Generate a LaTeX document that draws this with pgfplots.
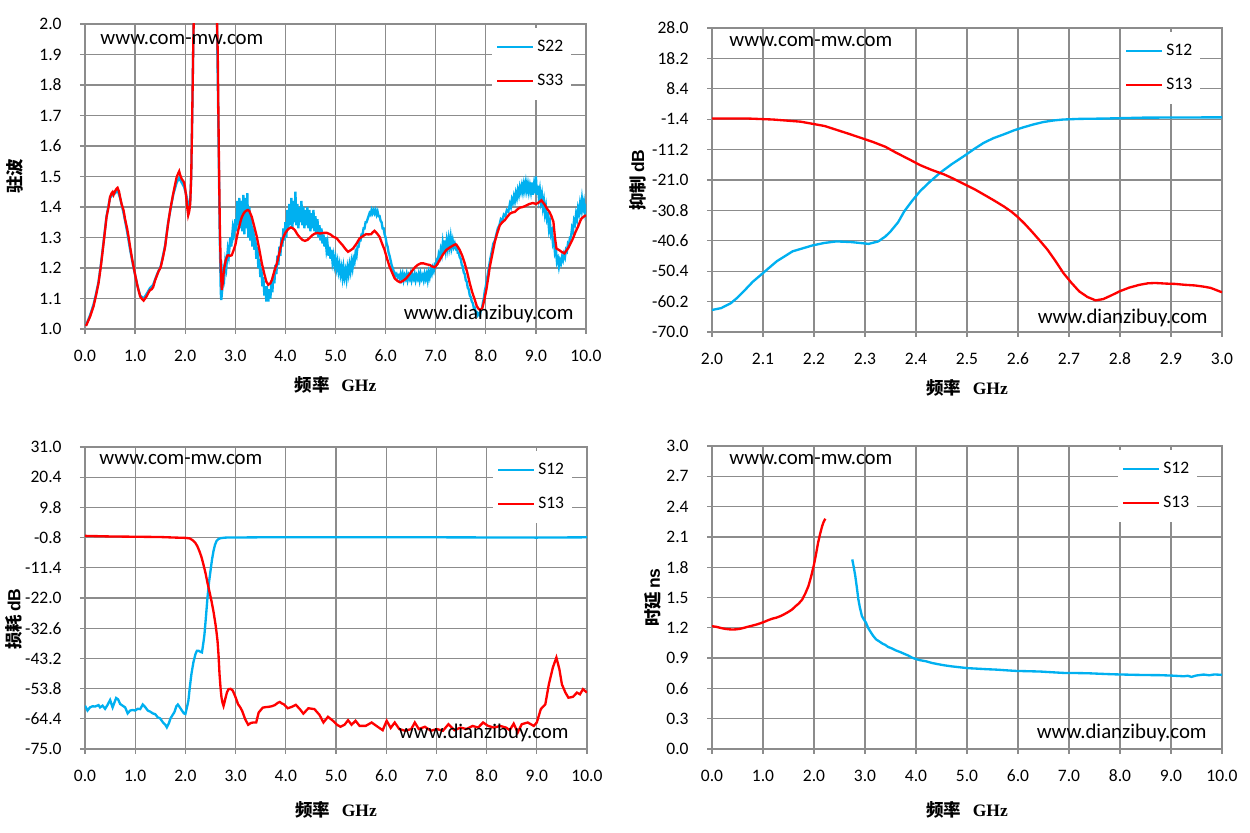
\documentclass[border=0pt]{standalone}
\usepackage{pgfplots}
\pgfplotsset{compat=1.18}
\usepackage{fontspec}
\setmainfont{Carlito}
\newfontfamily\cjk{Noto Sans CJK SC}
\newfontfamily\serifb{Liberation Serif}
\newfontfamily\sansb{Liberation Sans}
\definecolor{sblue}{HTML}{00B0F0}
\definecolor{sred}{HTML}{FF0000}
\definecolor{gridc}{HTML}{8C8C8C}
\newcommand{\tickfont}{\fontsize{10.5}{12}\selectfont}
\newcommand{\wmfont}{\fontsize{12.5}{14}\selectfont}
\newcommand{\labfont}{\fontsize{10.5}{12}\selectfont}
\newcommand{\xlab}{{\cjk\bfseries 频率}\hspace{7pt}{\serifb\bfseries GHz}}
\pgfplotsset{
  myax/.style={
    scale only axis,
    anchor=south west,
    axis line style={gridc, line width=0.75pt},
    grid=major,
    major grid style={gridc, line width=0.75pt},
    tick style={gridc, line width=0.75pt},
    tick align=outside,
    tick pos=left,
    major tick length=3pt,
    tick label style={font=\tickfont},
    /pgf/number format/assume math mode=true,
    /pgf/number format/fixed,
    /pgf/number format/fixed zerofill,
    /pgf/number format/precision=1,
    xticklabel style={yshift=-6pt},
    yticklabel style={xshift=-7.5pt},
    label style={font=\labfont},
    legend cell align=left,
    legend style={draw=none, fill=white, anchor=north east, font=\tickfont,
      row sep=8pt, inner ysep=5.2pt, inner xsep=2.5pt, yshift=-2.4pt},
    legend image code/.code={\draw[##1, line width=1.1pt] (0pt,0pt) -- (21.6pt,0pt);},
    every axis plot/.append style={line width=1.4pt},
  },
}
\begin{document}
\begin{tikzpicture}
\useasboundingbox (0,0) rectangle (750pt,499.8pt);
%%%%%%%%%%%%%%%% TOP LEFT
\begin{axis}[myax, at={(51pt,302.4pt)}, width=300.6pt, height=183pt,
  xmin=0, xmax=10, ymin=1, ymax=2,
  xtick={0,1,...,10}, ytick={1.0,1.1,1.2,1.3,1.4,1.5,1.6,1.7,1.8,1.9,2.0},
  legend style={at={(0.97,1)}},
  xlabel={\xlab}, xlabel style={at={(axis description cs:0.5,-0.184)}, anchor=center},
  ylabel={{\cjk\bfseries 驻波}}, ylabel style={at={(axis description cs:-0.14,0.5)}, anchor=center},
]
\addplot[sblue] coordinates {
(0.02,1.012)(0.10,1.045)(0.17,1.08)(0.22,1.115)(0.27,1.155)(0.32,1.215)(0.37,1.285)(0.43,1.37)(0.47,1.405)(0.50,1.43)(0.55,1.44)(0.60,1.445)(0.65,1.455)(0.70,1.43)(0.77,1.38)(0.84,1.32)(0.90,1.26)(0.97,1.20)(1.05,1.14)(1.10,1.11)(1.17,1.10)(1.23,1.115)(1.30,1.135)(1.36,1.145)(1.44,1.18)(1.51,1.205)(1.55,1.235)(1.60,1.275)(1.66,1.35)(1.76,1.44)(1.83,1.48)(1.88,1.495)(1.93,1.48)(1.98,1.465)(2.02,1.44)(2.06,1.41)(2.08,1.40)(2.10,1.42)(2.12,1.50)(2.14,1.70)(2.16,1.92)(2.18,2.10)(2.20,3.0)(2.60,3.0)(2.63,2.05)(2.66,1.70)(2.69,1.30)(2.71,1.12)(2.72,1.095)(2.74,1.13)(2.76,1.19)(2.78,1.17)(2.80,1.22)(2.82,1.20)(2.85,1.26)(2.87,1.24)(2.90,1.30)(2.92,1.27)(2.95,1.33)(2.97,1.31)(3.00,1.36)(3.02,1.32)(3.04,1.42)(3.06,1.34)(3.08,1.43)(3.10,1.33)(3.12,1.42)(3.14,1.32)(3.16,1.44)(3.18,1.31)(3.20,1.43)(3.22,1.33)(3.24,1.445)(3.26,1.30)(3.28,1.40)(3.30,1.29)(3.32,1.36)(3.34,1.27)(3.36,1.33)(3.38,1.26)(3.40,1.30)(3.42,1.23)(3.44,1.27)(3.46,1.20)(3.48,1.23)(3.50,1.17)(3.52,1.20)(3.54,1.14)(3.56,1.17)(3.58,1.11)(3.60,1.14)(3.62,1.09)(3.64,1.12)(3.66,1.09)(3.68,1.13)(3.70,1.10)(3.72,1.15)(3.74,1.12)(3.76,1.18)(3.78,1.15)(3.80,1.21)(3.82,1.18)(3.84,1.24)(3.86,1.21)(3.88,1.27)(3.90,1.24)(3.92,1.30)(3.94,1.27)(3.96,1.33)(3.98,1.29)(4.00,1.35)(4.02,1.30)(4.04,1.39)(4.06,1.33)(4.08,1.41)(4.10,1.34)(4.12,1.43)(4.14,1.33)(4.16,1.42)(4.18,1.35)(4.20,1.45)(4.22,1.34)(4.24,1.41)(4.26,1.33)(4.28,1.40)(4.30,1.35)(4.32,1.42)(4.34,1.34)(4.36,1.40)(4.38,1.33)(4.40,1.39)(4.42,1.34)(4.44,1.40)(4.46,1.33)(4.48,1.39)(4.50,1.32)(4.52,1.38)(4.54,1.33)(4.56,1.39)(4.58,1.32)(4.60,1.37)(4.62,1.31)(4.64,1.36)(4.66,1.30)(4.68,1.34)(4.70,1.29)(4.72,1.33)(4.74,1.28)(4.76,1.31)(4.78,1.27)(4.80,1.30)(4.82,1.26)(4.84,1.28)(4.86,1.24)(4.88,1.27)(4.90,1.23)(4.92,1.26)(4.94,1.22)(4.96,1.24)(4.98,1.21)(5.00,1.23)(5.02,1.20)(5.04,1.22)(5.06,1.19)(5.08,1.21)(5.10,1.18)(5.12,1.20)(5.14,1.17)(5.16,1.20)(5.18,1.17)(5.20,1.19)(5.22,1.165)(5.24,1.20)(5.26,1.18)(5.28,1.21)(5.30,1.19)(5.32,1.22)(5.34,1.20)(5.36,1.23)(5.38,1.22)(5.40,1.25)(5.42,1.24)(5.44,1.27)(5.46,1.27)(5.48,1.29)(5.50,1.29)(5.52,1.31)(5.54,1.31)(5.56,1.33)(5.58,1.33)(5.60,1.35)(5.62,1.35)(5.64,1.36)(5.66,1.37)(5.68,1.38)(5.70,1.375)(5.72,1.39)(5.74,1.38)(5.76,1.39)(5.78,1.38)(5.80,1.39)(5.82,1.375)(5.84,1.385)(5.86,1.37)(5.88,1.37)(5.90,1.355)(5.92,1.35)(5.94,1.33)(5.96,1.33)(5.98,1.31)(6.00,1.30)(6.02,1.28)(6.04,1.27)(6.06,1.25)(6.08,1.24)(6.10,1.225)(6.12,1.21)(6.14,1.20)(6.16,1.19)(6.18,1.185)(6.20,1.175)(6.22,1.18)(6.24,1.17)(6.26,1.175)(6.28,1.165)(6.30,1.18)(6.32,1.165)(6.34,1.18)(6.36,1.16)(6.38,1.175)(6.40,1.165)(6.42,1.18)(6.44,1.16)(6.46,1.175)(6.48,1.165)(6.50,1.18)(6.52,1.16)(6.54,1.175)(6.56,1.165)(6.58,1.18)(6.60,1.16)(6.62,1.175)(6.64,1.165)(6.66,1.18)(6.68,1.16)(6.70,1.18)(6.72,1.165)(6.74,1.175)(6.76,1.16)(6.78,1.18)(6.80,1.165)(6.82,1.18)(6.84,1.16)(6.86,1.185)(6.88,1.17)(6.90,1.19)(6.92,1.18)(6.94,1.20)(6.96,1.19)(6.98,1.21)(7.00,1.205)(7.02,1.225)(7.04,1.22)(7.06,1.245)(7.08,1.235)(7.10,1.26)(7.12,1.245)(7.14,1.28)(7.16,1.25)(7.18,1.29)(7.20,1.26)(7.22,1.29)(7.24,1.265)(7.26,1.295)(7.28,1.27)(7.30,1.30)(7.32,1.27)(7.34,1.29)(7.36,1.27)(7.38,1.28)(7.40,1.265)(7.42,1.27)(7.44,1.25)(7.46,1.25)(7.48,1.235)(7.50,1.23)(7.52,1.21)(7.54,1.205)(7.56,1.185)(7.58,1.18)(7.60,1.16)(7.62,1.155)(7.64,1.135)(7.66,1.13)(7.68,1.11)(7.70,1.105)(7.72,1.09)(7.74,1.085)(7.76,1.07)(7.78,1.07)(7.80,1.055)(7.82,1.055)(7.84,1.045)(7.86,1.05)(7.88,1.045)(7.90,1.06)(7.92,1.065)(7.94,1.085)(7.96,1.10)(7.98,1.125)(8.00,1.14)(8.03,1.17)(8.06,1.20)(8.09,1.23)(8.12,1.255)(8.15,1.28)(8.18,1.29)(8.21,1.31)(8.24,1.33)(8.27,1.34)(8.30,1.36)(8.33,1.355)(8.36,1.375)(8.39,1.37)(8.42,1.39)(8.45,1.385)(8.48,1.41)(8.50,1.40)(8.52,1.425)(8.54,1.415)(8.56,1.435)(8.58,1.42)(8.60,1.445)(8.62,1.43)(8.64,1.455)(8.66,1.44)(8.68,1.465)(8.70,1.45)(8.72,1.47)(8.74,1.45)(8.76,1.475)(8.78,1.455)(8.80,1.48)(8.82,1.455)(8.84,1.475)(8.86,1.45)(8.88,1.47)(8.90,1.45)(8.92,1.48)(8.94,1.44)(8.96,1.47)(8.98,1.445)(9.00,1.50)(9.02,1.44)(9.04,1.47)(9.06,1.43)(9.08,1.455)(9.10,1.42)(9.12,1.44)(9.14,1.40)(9.16,1.42)(9.18,1.38)(9.20,1.40)(9.22,1.36)(9.24,1.37)(9.26,1.33)(9.28,1.35)(9.30,1.31)(9.32,1.32)(9.34,1.28)(9.36,1.29)(9.38,1.25)(9.40,1.26)(9.42,1.22)(9.44,1.23)(9.46,1.205)(9.48,1.225)(9.50,1.215)(9.52,1.235)(9.54,1.225)(9.56,1.245)(9.58,1.235)(9.60,1.26)(9.62,1.255)(9.64,1.28)(9.66,1.275)(9.68,1.30)(9.70,1.30)(9.72,1.33)(9.74,1.32)(9.76,1.355)(9.78,1.345)(9.80,1.375)(9.82,1.36)(9.84,1.395)(9.86,1.38)(9.88,1.41)(9.90,1.39)(9.92,1.425)(9.94,1.395)(9.96,1.415)(9.98,1.385)(10.0,1.41)};
\addlegendentry{S22}
\addplot[sred] coordinates {
(0.02,1.01)(0.10,1.04)(0.17,1.074)(0.22,1.11)(0.27,1.15)(0.32,1.21)(0.37,1.28)(0.43,1.367)(0.47,1.40)(0.50,1.433)(0.53,1.445)(0.55,1.449)(0.57,1.44)(0.60,1.452)(0.63,1.46)(0.65,1.463)(0.68,1.45)(0.70,1.433)(0.73,1.41)(0.77,1.389)(0.80,1.36)(0.84,1.33)(0.87,1.302)(0.90,1.27)(0.94,1.23)(0.97,1.204)(1.01,1.17)(1.05,1.139)(1.08,1.12)(1.10,1.107)(1.13,1.10)(1.17,1.093)(1.20,1.10)(1.23,1.107)(1.27,1.12)(1.30,1.128)(1.33,1.13)(1.36,1.137)(1.40,1.16)(1.44,1.177)(1.47,1.19)(1.51,1.202)(1.55,1.23)(1.60,1.27)(1.63,1.31)(1.66,1.346)(1.70,1.39)(1.76,1.443)(1.80,1.475)(1.83,1.498)(1.86,1.51)(1.88,1.517)(1.90,1.505)(1.93,1.492)(1.96,1.485)(1.98,1.48)(2.00,1.46)(2.02,1.433)(2.04,1.40)(2.06,1.373)(2.08,1.385)(2.10,1.41)(2.12,1.50)(2.14,1.70)(2.16,1.92)(2.18,2.10)(2.20,3.0)(2.60,3.0)(2.63,2.05)(2.65,1.90)(2.67,1.60)(2.69,1.35)(2.71,1.20)(2.73,1.128)(2.75,1.15)(2.76,1.172)(2.78,1.20)(2.81,1.226)(2.84,1.24)(2.86,1.242)(2.90,1.24)(2.93,1.242)(2.97,1.26)(3.00,1.275)(3.03,1.30)(3.06,1.324)(3.10,1.35)(3.13,1.367)(3.17,1.38)(3.21,1.387)(3.25,1.39)(3.28,1.387)(3.31,1.375)(3.33,1.367)(3.38,1.335)(3.43,1.302)(3.48,1.26)(3.53,1.215)(3.58,1.18)(3.62,1.155)(3.66,1.145)(3.70,1.15)(3.73,1.161)(3.78,1.19)(3.83,1.215)(3.88,1.25)(3.93,1.286)(3.97,1.305)(4.01,1.318)(4.06,1.328)(4.11,1.333)(4.15,1.33)(4.19,1.324)(4.24,1.31)(4.29,1.30)(4.34,1.292)(4.39,1.289)(4.44,1.292)(4.49,1.30)(4.54,1.308)(4.59,1.313)(4.64,1.315)(4.69,1.313)(4.76,1.315)(4.83,1.315)(4.90,1.31)(4.96,1.302)(5.02,1.298)(5.08,1.286)(5.14,1.275)(5.20,1.262)(5.25,1.253)(5.30,1.258)(5.35,1.264)(5.42,1.28)(5.48,1.297)(5.55,1.305)(5.61,1.311)(5.66,1.31)(5.71,1.311)(5.75,1.318)(5.78,1.322)(5.83,1.313)(5.88,1.302)(5.93,1.28)(5.98,1.259)(6.03,1.23)(6.08,1.204)(6.13,1.185)(6.18,1.166)(6.24,1.157)(6.29,1.153)(6.35,1.158)(6.41,1.166)(6.47,1.178)(6.54,1.193)(6.59,1.203)(6.64,1.21)(6.70,1.215)(6.76,1.215)(6.82,1.212)(6.88,1.21)(6.93,1.205)(6.98,1.202)(7.03,1.212)(7.08,1.226)(7.14,1.243)(7.21,1.259)(7.26,1.265)(7.31,1.27)(7.36,1.275)(7.40,1.278)(7.44,1.27)(7.48,1.259)(7.53,1.24)(7.58,1.215)(7.63,1.185)(7.68,1.15)(7.73,1.12)(7.78,1.096)(7.82,1.075)(7.86,1.065)(7.90,1.063)(7.93,1.068)(7.97,1.095)(8.01,1.128)(8.05,1.17)(8.08,1.204)(8.13,1.245)(8.18,1.286)(8.23,1.315)(8.28,1.34)(8.33,1.35)(8.38,1.357)(8.43,1.368)(8.48,1.378)(8.53,1.382)(8.58,1.384)(8.63,1.392)(8.68,1.398)(8.74,1.40)(8.81,1.405)(8.87,1.41)(8.94,1.413)(9.00,1.41)(9.04,1.413)(9.08,1.418)(9.11,1.422)(9.14,1.415)(9.17,1.409)(9.22,1.395)(9.27,1.384)(9.31,1.37)(9.35,1.351)(9.38,1.30)(9.41,1.264)(9.45,1.26)(9.48,1.257)(9.52,1.252)(9.57,1.248)(9.60,1.255)(9.64,1.264)(9.69,1.28)(9.74,1.297)(9.79,1.318)(9.84,1.335)(9.88,1.352)(9.91,1.362)(9.95,1.368)(10.0,1.373)};
\addlegendentry{S33}
\node[anchor=west, inner sep=0pt, font=\wmfont, xshift=9pt, yshift=-9.6pt] at (rel axis cs:0,1) {www.com-mw.com};
\node[anchor=east, inner sep=0pt, font=\wmfont, xshift=-7.2pt, yshift=9pt] at (rel axis cs:1,0) {www.dianzibuy.com};
\end{axis}
%%%%%%%%%%%%%%%% TOP RIGHT
\begin{axis}[myax, at={(427.2pt,300.6pt)}, width=306pt, height=182.4pt,
  xmin=2, xmax=3, ymin=-70, ymax=28,
  xtick={2.0,2.1,2.2,2.3,2.4,2.5,2.6,2.7,2.8,2.9,3.0},
  ytick={-70,-60.2,-50.4,-40.6,-30.8,-21,-11.2,-1.4,8.4,18.2,28},
  legend style={at={(0.957,1)}},
  xlabel={\xlab}, xlabel style={at={(axis description cs:0.5,-0.184)}, anchor=center},
  ylabel={{\cjk\bfseries 抑制}\,{\sansb\bfseries dB}}, ylabel style={at={(axis description cs:-0.146,0.5)}, anchor=center},
]
\addplot[sblue] coordinates {
(2.000,-62.9)(2.018,-62.3)(2.037,-60.7)(2.050,-58.9)(2.065,-56.4)(2.080,-53.8)(2.100,-51.0)(2.127,-47.2)(2.158,-44.0)(2.197,-42.1)(2.220,-41.3)(2.244,-40.8)(2.272,-41.0)(2.290,-41.3)(2.307,-41.6)(2.326,-40.8)(2.340,-39.2)(2.350,-37.6)(2.365,-34.6)(2.377,-31.1)(2.392,-27.8)(2.408,-24.6)(2.427,-21.6)(2.447,-18.7)(2.470,-15.9)(2.494,-13.3)(2.515,-10.9)(2.533,-9.0)(2.552,-7.5)(2.572,-6.3)(2.592,-5.0)(2.611,-4.0)(2.630,-3.1)(2.650,-2.3)(2.670,-1.8)(2.689,-1.5)(2.720,-1.3)(2.767,-1.2)(2.845,-0.9)(2.920,-0.85)(3.000,-0.8)};
\addlegendentry{S12}
\addplot[sred] coordinates {
(2.000,-1.15)(2.065,-1.15)(2.119,-1.5)(2.174,-2.2)(2.221,-3.6)(2.268,-6.1)(2.315,-8.7)(2.340,-10.3)(2.361,-12.2)(2.385,-14.2)(2.408,-16.2)(2.430,-17.7)(2.455,-19.2)(2.475,-20.7)(2.494,-22.3)(2.515,-24.0)(2.533,-25.7)(2.552,-27.5)(2.572,-29.5)(2.587,-31.2)(2.600,-33.0)(2.613,-35.1)(2.627,-37.6)(2.642,-40.4)(2.658,-43.5)(2.673,-47.0)(2.689,-51.0)(2.705,-54.2)(2.720,-56.9)(2.736,-58.7)(2.752,-59.8)(2.767,-59.4)(2.783,-58.2)(2.799,-56.9)(2.818,-55.7)(2.838,-54.8)(2.855,-54.3)(2.869,-54.2)(2.890,-54.4)(2.908,-54.5)(2.928,-54.8)(2.947,-55.0)(2.965,-55.4)(2.978,-55.8)(3.000,-57.2)};
\addlegendentry{S13}
\node[anchor=west, inner sep=0pt, font=\wmfont, xshift=10.2pt, yshift=-8.4pt] at (rel axis cs:0,1) {www.com-mw.com};
\node[anchor=east, inner sep=0pt, font=\wmfont, xshift=-8.4pt, yshift=8.4pt] at (rel axis cs:1,0) {www.dianzibuy.com};
\end{axis}
%%%%%%%%%%%%%%%% BOTTOM LEFT
\begin{axis}[myax, at={(51pt,50.4pt)}, width=301.2pt, height=181.2pt,
  xmin=0, xmax=10, ymin=-75, ymax=31,
  xtick={0,1,...,10},
  ytick={-75,-64.4,-53.8,-43.2,-32.6,-22,-11.4,-0.8,9.8,20.4,31},
  legend style={at={(0.97,1)}},
  xlabel={\xlab}, xlabel style={at={(axis description cs:0.5,-0.20)}, anchor=center},
  ylabel={{\cjk\bfseries 损耗}\,{\sansb\bfseries dB}}, ylabel style={at={(axis description cs:-0.142,0.43)}, anchor=center},
]
\addplot[sblue] coordinates {
(0.00,-59.8)(0.05,-61.5)(0.10,-60.4)(0.15,-60.0)(0.20,-60.1)(0.27,-59.6)(0.30,-60.4)(0.35,-59.8)(0.40,-60.9)(0.45,-59.5)(0.50,-57.8)(0.55,-60.4)(0.58,-59.0)(0.62,-57.1)(0.66,-57.6)(0.70,-59.2)(0.75,-59.8)(0.80,-60.4)(0.85,-62.5)(0.90,-61.5)(0.95,-61.3)(1.00,-61.5)(1.05,-60.9)(1.10,-61.0)(1.15,-59.4)(1.20,-60.3)(1.25,-61.5)(1.30,-61.9)(1.35,-62.5)(1.40,-62.8)(1.45,-63.9)(1.50,-64.3)(1.55,-65.6)(1.60,-66.5)(1.63,-67.4)(1.67,-66.0)(1.70,-64.4)(1.74,-63.2)(1.78,-62.1)(1.82,-60.0)(1.85,-59.4)(1.89,-60.4)(1.93,-61.5)(1.97,-62.5)(2.00,-62.7)(2.03,-60.5)(2.06,-58.0)(2.09,-53.0)(2.12,-48.7)(2.16,-44.5)(2.20,-41.7)(2.23,-40.5)(2.26,-40.5)(2.30,-40.9)(2.33,-41.1)(2.36,-37.5)(2.38,-34.7)(2.41,-28.5)(2.44,-21.8)(2.47,-16.5)(2.50,-12.5)(2.53,-8.5)(2.56,-5.5)(2.59,-3.3)(2.62,-2.0)(2.66,-1.3)(2.70,-1.0)(2.80,-0.8)(3.50,-0.7)(5.00,-0.7)(7.00,-0.7)(9.00,-0.8)(10.0,-0.7)};
\addlegendentry{S12}
\addplot[sred] coordinates {
(0.00,-0.2)(0.50,-0.4)(1.00,-0.5)(1.50,-0.6)(1.80,-0.8)(2.00,-0.9)(2.09,-1.1)(2.15,-1.8)(2.20,-2.7)(2.24,-3.9)(2.28,-5.6)(2.32,-7.6)(2.36,-10.3)(2.40,-13.2)(2.44,-16.7)(2.48,-19.8)(2.52,-23.1)(2.56,-26.8)(2.60,-31.3)(2.62,-34.0)(2.64,-37.1)(2.66,-42.0)(2.68,-48.8)(2.70,-53.5)(2.72,-57.0)(2.74,-58.8)(2.76,-59.9)(2.78,-58.5)(2.80,-57.0)(2.83,-55.0)(2.86,-54.0)(2.90,-53.9)(2.94,-54.4)(2.99,-56.4)(3.05,-59.3)(3.09,-60.3)(3.13,-61.6)(3.19,-64.5)(3.25,-66.5)(3.30,-65.9)(3.35,-65.7)(3.41,-65.7)(3.46,-62.2)(3.54,-60.5)(3.60,-60.3)(3.66,-60.2)(3.72,-60.0)(3.78,-59.6)(3.84,-58.8)(3.88,-58.5)(3.92,-59.0)(3.96,-59.3)(4.04,-60.7)(4.12,-60.2)(4.20,-59.5)(4.28,-61.0)(4.35,-62.6)(4.45,-60.7)(4.57,-61.0)(4.67,-63.0)(4.75,-65.7)(4.84,-63.7)(4.94,-65.1)(5.02,-66.5)(5.09,-67.2)(5.17,-66.5)(5.24,-64.9)(5.31,-66.5)(5.39,-65.1)(5.47,-66.9)(5.59,-66.9)(5.71,-65.7)(5.83,-67.2)(5.93,-68.4)(6.01,-65.1)(6.09,-67.6)(6.17,-65.7)(6.26,-68.0)(6.38,-68.6)(6.50,-68.0)(6.57,-65.7)(6.65,-68.0)(6.77,-67.2)(6.89,-68.6)(7.01,-68.0)(7.13,-68.6)(7.24,-66.3)(7.36,-68.4)(7.48,-67.5)(7.60,-68.0)(7.72,-66.9)(7.83,-67.5)(7.93,-65.7)(8.03,-66.9)(8.15,-67.5)(8.27,-66.9)(8.39,-67.5)(8.46,-68.4)(8.54,-66.1)(8.62,-69.2)(8.70,-66.3)(8.82,-65.7)(8.94,-66.9)(9.00,-65.7)(9.08,-61.0)(9.17,-59.3)(9.24,-52.3)(9.32,-46.4)(9.39,-42.9)(9.45,-47.0)(9.50,-52.3)(9.57,-55.2)(9.63,-57.0)(9.72,-56.7)(9.80,-55.2)(9.86,-55.8)(9.92,-54.0)(10.0,-55.2)};
\addlegendentry{S13}
\node[anchor=west, inner sep=0pt, font=\wmfont, xshift=8.4pt, yshift=-7.8pt] at (rel axis cs:0,1) {www.com-mw.com};
\node[anchor=east, inner sep=0pt, font=\wmfont, xshift=-10.8pt, yshift=9.6pt] at (rel axis cs:1,0) {www.dianzibuy.com};
\end{axis}
%%%%%%%%%%%%%%%% BOTTOM RIGHT
\begin{axis}[myax, at={(427.2pt,50.4pt)}, width=306pt, height=181.8pt,
  xmin=0, xmax=10, ymin=0, ymax=3,
  xtick={0,1,...,10},
  ytick={0,0.3,0.6,0.9,1.2,1.5,1.8,2.1,2.4,2.7,3.0},
  legend style={at={(0.951,1)}},
  xlabel={\xlab}, xlabel style={at={(axis description cs:0.5,-0.20)}, anchor=center},
  ylabel={{\cjk\bfseries 时延}\,{\sansb\bfseries ns}}, ylabel style={at={(axis description cs:-0.115,0.5)}, anchor=center},
]
\addplot[sblue] coordinates {
(2.75,1.877)(2.78,1.80)(2.81,1.711)(2.84,1.60)(2.87,1.48)(2.90,1.40)(2.94,1.315)(2.98,1.28)(3.02,1.25)(3.06,1.20)(3.10,1.167)(3.16,1.12)(3.22,1.084)(3.28,1.065)(3.34,1.044)(3.40,1.03)(3.45,1.011)(3.53,0.995)(3.61,0.975)(3.69,0.96)(3.77,0.942)(3.85,0.925)(3.92,0.905)(4.00,0.89)(4.08,0.879)(4.20,0.868)(4.31,0.852)(4.43,0.84)(4.55,0.829)(4.70,0.818)(4.86,0.809)(5.02,0.80)(5.18,0.796)(5.38,0.79)(5.57,0.786)(5.77,0.779)(5.96,0.773)(6.20,0.77)(6.43,0.767)(6.66,0.76)(6.90,0.753)(7.13,0.752)(7.37,0.75)(7.60,0.745)(7.84,0.74)(8.07,0.737)(8.31,0.734)(8.55,0.732)(8.78,0.731)(9.00,0.727)(9.25,0.72)(9.33,0.725)(9.40,0.714)(9.50,0.728)(9.64,0.737)(9.75,0.73)(9.85,0.738)(10.0,0.734)};
\addlegendentry{S12}
\addplot[sred] coordinates {
(0.00,1.216)(0.08,1.21)(0.16,1.20)(0.25,1.19)(0.33,1.185)(0.40,1.183)(0.48,1.185)(0.55,1.19)(0.63,1.20)(0.70,1.21)(0.78,1.22)(0.87,1.232)(0.95,1.245)(1.03,1.26)(1.10,1.275)(1.18,1.29)(1.26,1.30)(1.34,1.315)(1.42,1.335)(1.50,1.358)(1.57,1.381)(1.63,1.41)(1.70,1.44)(1.77,1.48)(1.83,1.54)(1.89,1.612)(1.94,1.70)(2.00,1.827)(2.04,1.93)(2.08,2.042)(2.12,2.13)(2.16,2.207)(2.19,2.25)(2.22,2.28)};
\addlegendentry{S13}
\node[anchor=west, inner sep=0pt, font=\wmfont, xshift=10.2pt, yshift=-8.4pt] at (rel axis cs:0,1) {www.com-mw.com};
\node[anchor=east, inner sep=0pt, font=\wmfont, xshift=-9pt, yshift=9.6pt] at (rel axis cs:1,0) {www.dianzibuy.com};
\end{axis}
\end{tikzpicture}
\end{document}
